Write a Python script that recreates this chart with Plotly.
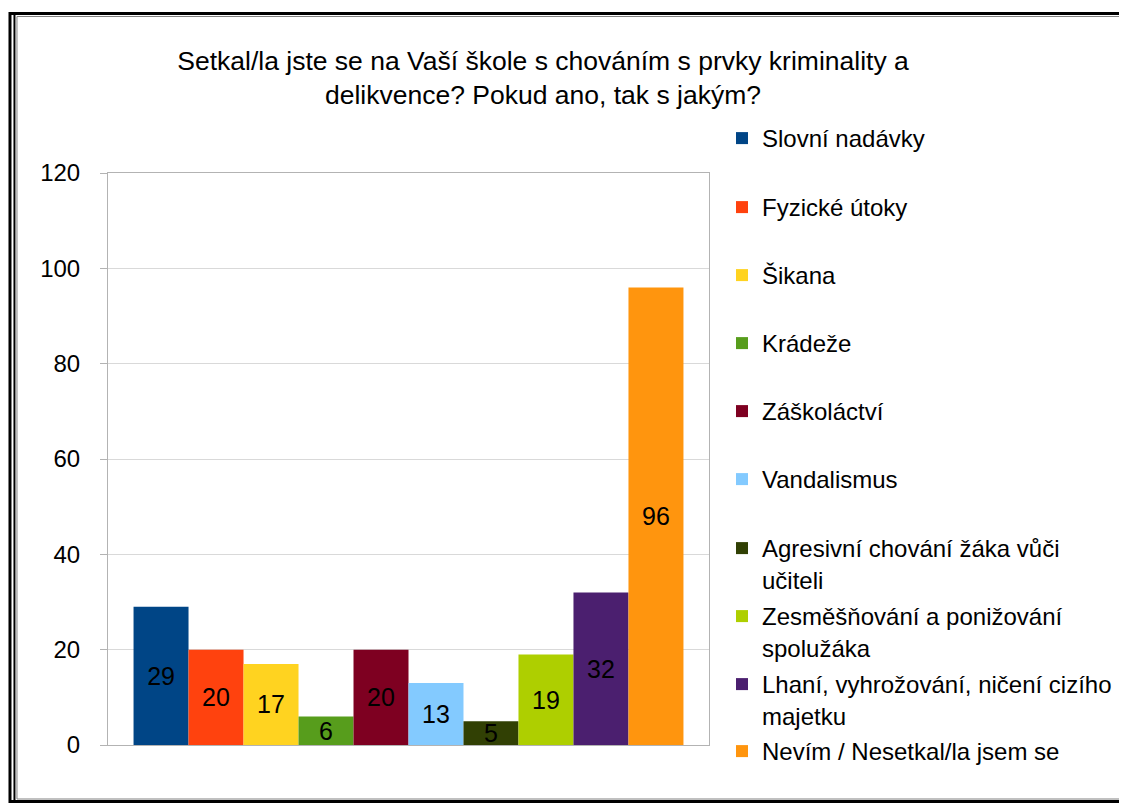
import plotly.graph_objects as go

categories = [
    "Slovní nadávky",
    "Fyzické útoky",
    "Šikana",
    "Krádeže",
    "Záškoláctví",
    "Vandalismus",
    "Agresivní chování žáka vůči<br>učiteli",
    "Zesměšňování a ponižování<br>spolužáka",
    "Lhaní, vyhrožování, ničení cizího<br>majetku",
    "Nevím / Nesetkal/la jsem se",
]
values = [29, 20, 17, 6, 20, 13, 5, 19, 32, 96]
colors = ["#004586", "#ff420e", "#ffd320", "#579d1c", "#7e0021",
          "#83caff", "#314004", "#aecf00", "#4b1f6f", "#ff950e"]
y_ticks = [0, 20, 40, 60, 80, 100, 120]

OFF = 8  # page body margin
W, H = 1127, 803
L, R, T, B = 108 - OFF, 712 - OFF, 173 - OFF, 745 - OFF
FONT = "Liberation Sans, Arial, sans-serif"

fig = go.Figure()
legend_names = ["legend"] + [f"legend{i}" for i in range(2, len(categories) + 1)]
for name, v, c, lg in zip(categories, values, colors, legend_names):
    fig.add_trace(go.Bar(
        x=["x"], y=[v], name=name, marker=dict(color=c, line=dict(width=0)),
        text=[str(v)], textposition="inside", insidetextanchor="middle",
        constraintext="none", textangle=0,
        textfont=dict(size=25, color="black", family=FONT),
        legend=lg, showlegend=True,
    ))

legend_first_line = [139, 208, 276, 344, 412, 480, 549, 617, 685, 752]
layout_legends = {}
for lg, yc in zip(legend_names, legend_first_line):
    layout_legends[lg] = dict(
        xref="container", yref="container",
        x=(762 - OFF - 40) / W, xanchor="left",
        y=1 - (yc - OFF - 23) / H, yanchor="top",
        bgcolor="rgba(0,0,0,0)", borderwidth=0, valign="top",
        font=dict(size=24, color="black", family=FONT),
    )

def px(xp):
    return (xp - OFF - L) / (R - L)

def py(yp):
    return (B - (yp - OFF)) / (B - T)

shapes = [
    # outer thick frame
    dict(type="rect", xref="paper", yref="paper", x0=px(9.5), x1=px(1140), y0=py(13.5), y1=py(801.5),
         line=dict(color="black", width=3), fillcolor="rgba(0,0,0,0)", layer="above"),
    # second line on left edge
    dict(type="line", xref="paper", yref="paper", x0=px(14), x1=px(14), y0=py(12), y1=py(803),
         line=dict(color="black", width=2), layer="above"),
    # inner thin gray frame
    dict(type="rect", xref="paper", yref="paper", x0=px(16.5), x1=px(1140), y0=py(16.5), y1=py(799),
         line=dict(color="#808080", width=1), fillcolor="rgba(0,0,0,0)", layer="above"),
]

fig.update_layout(
    width=W, height=H,
    margin=dict(l=L, r=W - R, t=T, b=H - B, pad=0),
    paper_bgcolor="white", plot_bgcolor="white",
    font=dict(family=FONT, size=24, color="black"),
    title=dict(
        text="Setkal/la jste se na Vaší škole s chováním s prvky kriminality a<br>delikvence? Pokud ano, tak s jakým?",
        xref="container", yref="container", x=(543 - OFF) / W, xanchor="center",
        y=1 - (70 - OFF) / H, yanchor="top",
        font=dict(size=26.5, color="black", family=FONT),
    ),
    barmode="group", bargap=0.085, bargroupgap=0,
    xaxis=dict(showticklabels=False, ticks="", showgrid=False, showline=True,
               linecolor="#b3b3b3", linewidth=1, mirror=True, zeroline=False,
               fixedrange=True),
    yaxis=dict(range=[0, 120], tickvals=y_ticks, ticks="outside", ticklen=7,
               tickcolor="#b3b3b3", showgrid=True, gridcolor="#d9d9d9", gridwidth=1,
               showline=True, linecolor="#b3b3b3", linewidth=1, mirror=True,
               zeroline=False, ticklabelstandoff=15,
               tickfont=dict(size=24, color="black", family=FONT)),
    shapes=shapes,
    **layout_legends,
)

fig.write_html("out.html")
